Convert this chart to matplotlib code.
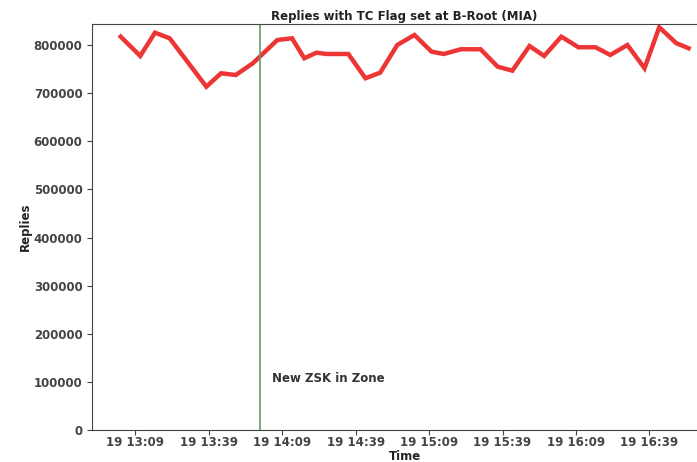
import pandas as pd
import matplotlib
matplotlib.use("Agg")
import matplotlib.pyplot as plt
import matplotlib.dates as mdates

# replies with TC flag set
times = [
    "13:03", "13:11", "13:17", "13:23", "13:38", "13:44", "13:50", "13:57",
    "14:07", "14:13", "14:18", "14:23", "14:27", "14:36", "14:43", "14:49",
    "14:56", "15:03", "15:10", "15:15", "15:22", "15:30", "15:37", "15:43",
    "15:50", "15:56", "16:03", "16:10", "16:17", "16:23", "16:30", "16:37",
    "16:43", "16:50", "16:55",
]
replies = [
    817700, 777500, 826000, 814300, 713700, 741600, 738000, 762400,
    810800, 814300, 772800, 784400, 781700, 781700, 731200, 742800,
    800400, 821200, 786500, 781700, 791500, 791500, 755300, 747000,
    798300, 777500, 817700, 795600, 795600, 779600, 800400, 752000,
    837200, 804000, 793600,
]
tick_times = ["13:09", "13:39", "14:09", "14:39", "15:09", "15:39", "16:09", "16:39"]
event_time = "14:00"
event_label_time = "14:05"
event_label_y = 100000
event_label = "New ZSK in Zone"

DAY = "2019-08-19 "


def to_dt(hm):
    return pd.to_datetime([DAY + t for t in hm])


x = to_dt(times)

fig = plt.figure(figsize=(6.97, 4.62), dpi=100)
# the original picture is cropped on the right, so the axes run past the edge
ax = fig.add_axes([0.1324, 0.0693, 0.8963, 0.8781])

ax.plot(x, replies, color="#ee3535", linewidth=3.2, solid_joinstyle="miter")
ax.axvline(to_dt([event_time])[0], color="#5a9e6a", linewidth=1.2)
ax.text(to_dt([event_label_time])[0], event_label_y, event_label,
        fontsize=8.5, fontweight="bold", color="#333333")

ax.set_ylim(bottom=0)
ax.set_xticks(to_dt(tick_times))
ax.xaxis.set_major_formatter(mdates.DateFormatter("%d %H:%M"))

for lbl in ax.get_xticklabels() + ax.get_yticklabels():
    lbl.set_fontweight("bold")
    lbl.set_fontsize(8.5)
    lbl.set_color("#222222")
ax.tick_params(colors="#444444", length=3.5)
ax.tick_params(axis="x", pad=1)

ax.set_title("Replies with TC Flag set at B-Root (MIA)", fontsize=8.5,
             fontweight="bold", color="#222222", pad=3)
ax.set_xlabel("Time", fontsize=8.5, fontweight="bold", color="#222222", labelpad=0.5)
ax.set_ylabel("Replies", fontsize=8.5, fontweight="bold", color="#222222", labelpad=1)

for s in ax.spines.values():
    s.set_color("#444444")

fig.savefig("out.png", dpi=100)
